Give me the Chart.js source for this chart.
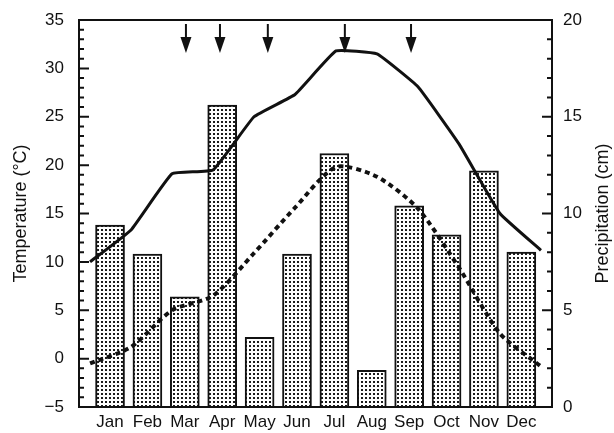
<!DOCTYPE html>
<html>
<head>
<meta charset="utf-8">
<script src="https://cdn.jsdelivr.net/npm/chart.js@4.4.0/dist/chart.umd.min.js"></script>
<style>
  body { margin: 0; background: #fff; }
</style>
</head>
<body>
<canvas id="myChart" width="614" height="433"></canvas>
<script>
const months = ["Jan", "Feb", "Mar", "Apr", "May", "Jun", "Jul", "Aug", "Sep", "Oct", "Nov", "Dec"];
const precipitation = [9.4, 7.9, 5.7, 15.6, 3.6, 7.9, 13.1, 1.9, 10.4, 8.9, 12.2, 8.0];
const tempMax = [10.0, 13.3, 19.1, 19.5, 25.0, 27.3, 31.8, 31.5, 28.1, 22.2, 15.0, 11.2];
const tempMin = [-0.5, 1.2, 5.0, 6.5, 10.9, 15.6, 19.8, 18.8, 15.5, 9.4, 2.6, -0.8];
// arrows at the top, in month units (Jan = 0)
const arrowMonths = [2.03, 2.94, 4.22, 6.28, 8.05];

const ink = "#111";
const fontFamily = "'Liberation Sans', Arial, Helvetica, sans-serif";
Chart.defaults.font.family = fontFamily;
Chart.defaults.color = ink;

const canvas = document.getElementById("myChart");

function makeDots() {
  const tile = document.createElement("canvas");
  tile.width = 4;
  tile.height = 4;
  const g = tile.getContext("2d");
  g.fillStyle = "#fff";
  g.fillRect(0, 0, 4, 4);
  g.fillStyle = "#1c1c1c";
  g.fillRect(1, 1, 2, 2);
  return canvas.getContext("2d").createPattern(tile, "repeat");
}

function toPoints(values) {
  return values.map((v, i) => ({ x: i, y: v }));
}

const frame = {
  id: "frame",
  afterDatasetsDraw(chart) {
    const { ctx, chartArea: a, scales } = chart;
    ctx.save();
    ctx.strokeStyle = ink;
    ctx.fillStyle = ink;
    ctx.lineWidth = 2;
    ctx.strokeRect(a.left, a.top, a.right - a.left, a.bottom - a.top);

    // inward ticks on both y axes
    ctx.beginPath();
    for (let v = -5; v <= 35; v++) {
      const y = scales.yT.getPixelForValue(v);
      ctx.moveTo(a.left, y);
      ctx.lineTo(a.left + (v % 5 === 0 ? 10 : 5), y);
    }
    for (let v = 0; v <= 20; v++) {
      const y = scales.yP.getPixelForValue(v);
      ctx.moveTo(a.right, y);
      ctx.lineTo(a.right - (v % 5 === 0 ? 10 : 5), y);
    }
    ctx.stroke();

    // arrows
    arrowMonths.forEach((m) => {
      const x = scales.x.getPixelForValue(m);
      ctx.beginPath();
      ctx.moveTo(x, a.top + 4);
      ctx.lineTo(x, a.top + 22);
      ctx.stroke();
      ctx.beginPath();
      ctx.moveTo(x - 5.5, a.top + 17);
      ctx.lineTo(x + 5.5, a.top + 17);
      ctx.lineTo(x, a.top + 33);
      ctx.closePath();
      ctx.fill();
    });

    // right axis title, reading bottom to top
    ctx.translate(603, (a.top + a.bottom) / 2);
    ctx.rotate(-Math.PI / 2);
    ctx.font = `18px ${fontFamily}`;
    ctx.textAlign = "center";
    ctx.textBaseline = "middle";
    ctx.fillText("Precipitation (cm)", 0, 0);
    ctx.restore();
  },
};

const config = {
  type: "bar",
  data: {
    datasets: [
      {
        type: "line",
        data: toPoints(tempMax),
        xAxisID: "x2",
        yAxisID: "yT",
        borderColor: ink,
        borderWidth: 3,
        pointRadius: 0,
        tension: 0.1,
        order: 0,
      },
      {
        type: "line",
        data: toPoints(tempMin),
        xAxisID: "x2",
        yAxisID: "yT",
        borderColor: ink,
        borderWidth: 4,
        borderDash: [5, 4],
        pointRadius: 0,
        tension: 0.25,
        order: 0,
      },
      {
        type: "bar",
        data: toPoints(precipitation),
        xAxisID: "x",
        yAxisID: "yP",
        backgroundColor: makeDots(),
        borderColor: ink,
        borderWidth: 2,
        barThickness: 29,
        grouped: false,
        order: 1,
      },
    ],
  },
  options: {
    responsive: false,
    animation: false,
    layout: { padding: { top: 20 } },
    plugins: {
      legend: { display: false },
      tooltip: { enabled: false },
    },
    scales: {
      x: {
        type: "linear",
        position: "bottom",
        offset: false,
        min: -0.83,
        max: 11.82,
        grid: { display: false, drawTicks: false, offset: false },
        border: { display: false },
        afterBuildTicks: (axis) => {
          axis.ticks = months.map((m, i) => ({ value: i }));
        },
        afterFit: (axis) => {
          axis.height = 26;
          axis.paddingLeft = 0;
          axis.paddingRight = 0;
        },
        ticks: {
          autoSkip: false,
          maxRotation: 0,
          padding: 5,
          font: { size: 17 },
          callback: (v) => months[v],
        },
      },
      x2: {
        type: "linear",
        display: false,
        offset: false,
        min: -0.27,
        max: 11.27,
      },
      yT: {
        position: "left",
        min: -5,
        max: 35,
        grid: { display: false, drawTicks: false },
        border: { display: false },
        afterFit: (axis) => {
          axis.width = 79;
          axis.paddingTop = 0;
          axis.paddingBottom = 0;
        },
        ticks: {
          stepSize: 5,
          padding: 15,
          font: { size: 17 },
          callback: (v) => (v < 0 ? "\u2212" + Math.abs(v) : v),
        },
        title: {
          display: true,
          text: "Temperature (°C)",
          font: { size: 18 },
          padding: { top: 10, bottom: 0 },
        },
      },
      yP: {
        position: "right",
        min: 0,
        max: 20,
        grid: { display: false, drawTicks: false },
        border: { display: false },
        afterFit: (axis) => {
          axis.width = 62;
          axis.paddingTop = 0;
          axis.paddingBottom = 0;
        },
        ticks: {
          stepSize: 5,
          padding: 11,
          font: { size: 17 },
        },
      },
    },
  },
  plugins: [frame],
};

new Chart(canvas, config);
</script>
</body>
</html>
